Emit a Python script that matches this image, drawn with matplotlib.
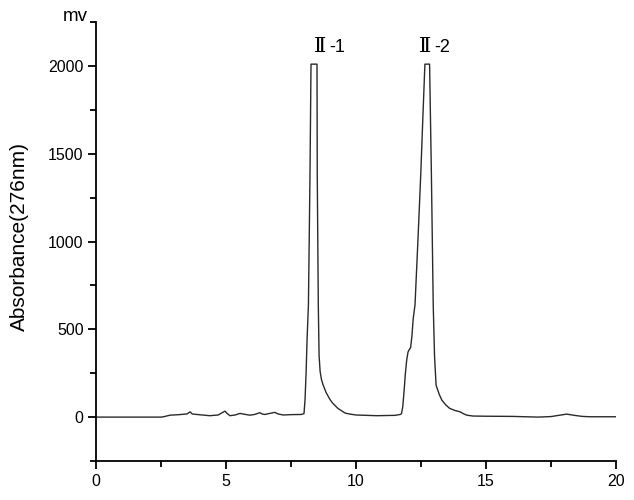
import matplotlib.pyplot as plt
from matplotlib.ticker import MultipleLocator

# retention time (min) and detector signal (mv)
time_base = [0, 2.5, 2.6, 2.85, 3.2, 3.5, 3.62, 3.7, 3.87, 4.38, 4.7, 4.96, 5.05,
             5.15, 5.35, 5.54, 5.75, 5.92, 6.1, 6.3, 6.4, 6.5, 6.65, 6.88, 7.0,
             7.2, 7.5, 7.9]
sig_base = [0, 0, 2, 11, 14, 18, 30, 18, 15, 8, 12, 34, 20,
            8, 12, 21, 15, 11, 15, 25, 17, 15, 20, 27, 18,
            12, 14, 15]

time_p1 = [8.0, 8.04, 8.08, 8.12, 8.17, 8.2, 8.23, 8.27, 8.5, 8.51, 8.55,
           8.58, 8.62, 8.67, 8.73, 8.85, 9.0, 9.1, 9.3, 9.58, 9.77, 10.0, 10.8,
           11.5, 11.7]
sig_p1 = [20, 100, 250, 450, 640, 1000, 1380, 2010, 2010, 1380, 640,
          350, 260, 215, 185, 140, 100, 80, 50, 23, 17, 12, 8,
          10, 15]

time_p2 = [11.75, 11.8, 11.85, 11.9, 11.95, 12.0, 12.05, 12.1, 12.15, 12.2,
           12.27, 12.38, 12.49, 12.57, 12.65, 12.83, 12.9, 12.97, 13.02, 13.08,
           13.2, 13.3, 13.45, 13.6, 13.8, 14.0, 14.15, 14.26, 14.5, 15, 16,
           16.5, 17, 17.5, 17.8, 18.1, 18.4, 18.7, 19, 20]
sig_p2 = [20, 60, 150, 250, 325, 370, 385, 395, 460, 560,
          640, 1000, 1380, 1700, 2010, 2010, 1380, 640, 350, 182,
          130, 97, 70, 50, 38, 30, 18, 11, 6, 5, 4,
          2, 0, 3, 10, 17, 10, 4, 2, 2]

peak_numeral = ['Ⅱ', 'Ⅱ']
peak_suffix = ['-1', '-2']
peak_label_x = [8.90, 12.96]
peak_label_y = [2080, 2080]

t = time_base + time_p1 + time_p2
s = sig_base + sig_p1 + sig_p2

plt.rcParams['font.family'] = ['Liberation Sans', 'DejaVu Serif']

fig = plt.figure(figsize=(6.34, 5), dpi=100)
ax = fig.add_axes([96 / 634, 1 - 461 / 500, 520 / 634, 439 / 500])

ax.plot(t, s, color='#2a2a2a', linewidth=1.0)

ax.set_xlim(0, 20)
ax.set_ylim(-250, 2250)
ax.xaxis.set_major_locator(MultipleLocator(5))
ax.xaxis.set_minor_locator(MultipleLocator(2.5))
ax.yaxis.set_major_locator(MultipleLocator(500))
ax.yaxis.set_minor_locator(MultipleLocator(250))
ax.set_yticks([0, 500, 1000, 1500, 2000])

for side in ['top', 'right']:
    ax.spines[side].set_visible(False)
for side in ['left', 'bottom']:
    ax.spines[side].set_linewidth(1.3)

ax.tick_params(which='major', length=6, width=1.3, labelsize=11.5, pad=3)
ax.tick_params(which='minor', length=4, width=1.3)

ax.set_ylabel('Absorbance(276nm)', fontsize=15)
ax.yaxis.set_label_coords(-0.128, 0.511)

ax.annotate('mv', xy=(0, 1), xycoords='axes fraction', xytext=(-6, 1),
            textcoords='offset points', ha='right', va='baseline', fontsize=13.5)

for num, suf, x, y in zip(peak_numeral, peak_suffix, peak_label_x, peak_label_y):
    ax.annotate(num, xy=(x, y), xytext=(-1, 0), textcoords='offset points',
                ha='right', va='baseline', fontsize=15, family='DejaVu Serif')
    ax.annotate(suf, xy=(x, y), xytext=(1, 0), textcoords='offset points',
                ha='left', va='baseline', fontsize=13)

fig.savefig('out.png', dpi=100)
